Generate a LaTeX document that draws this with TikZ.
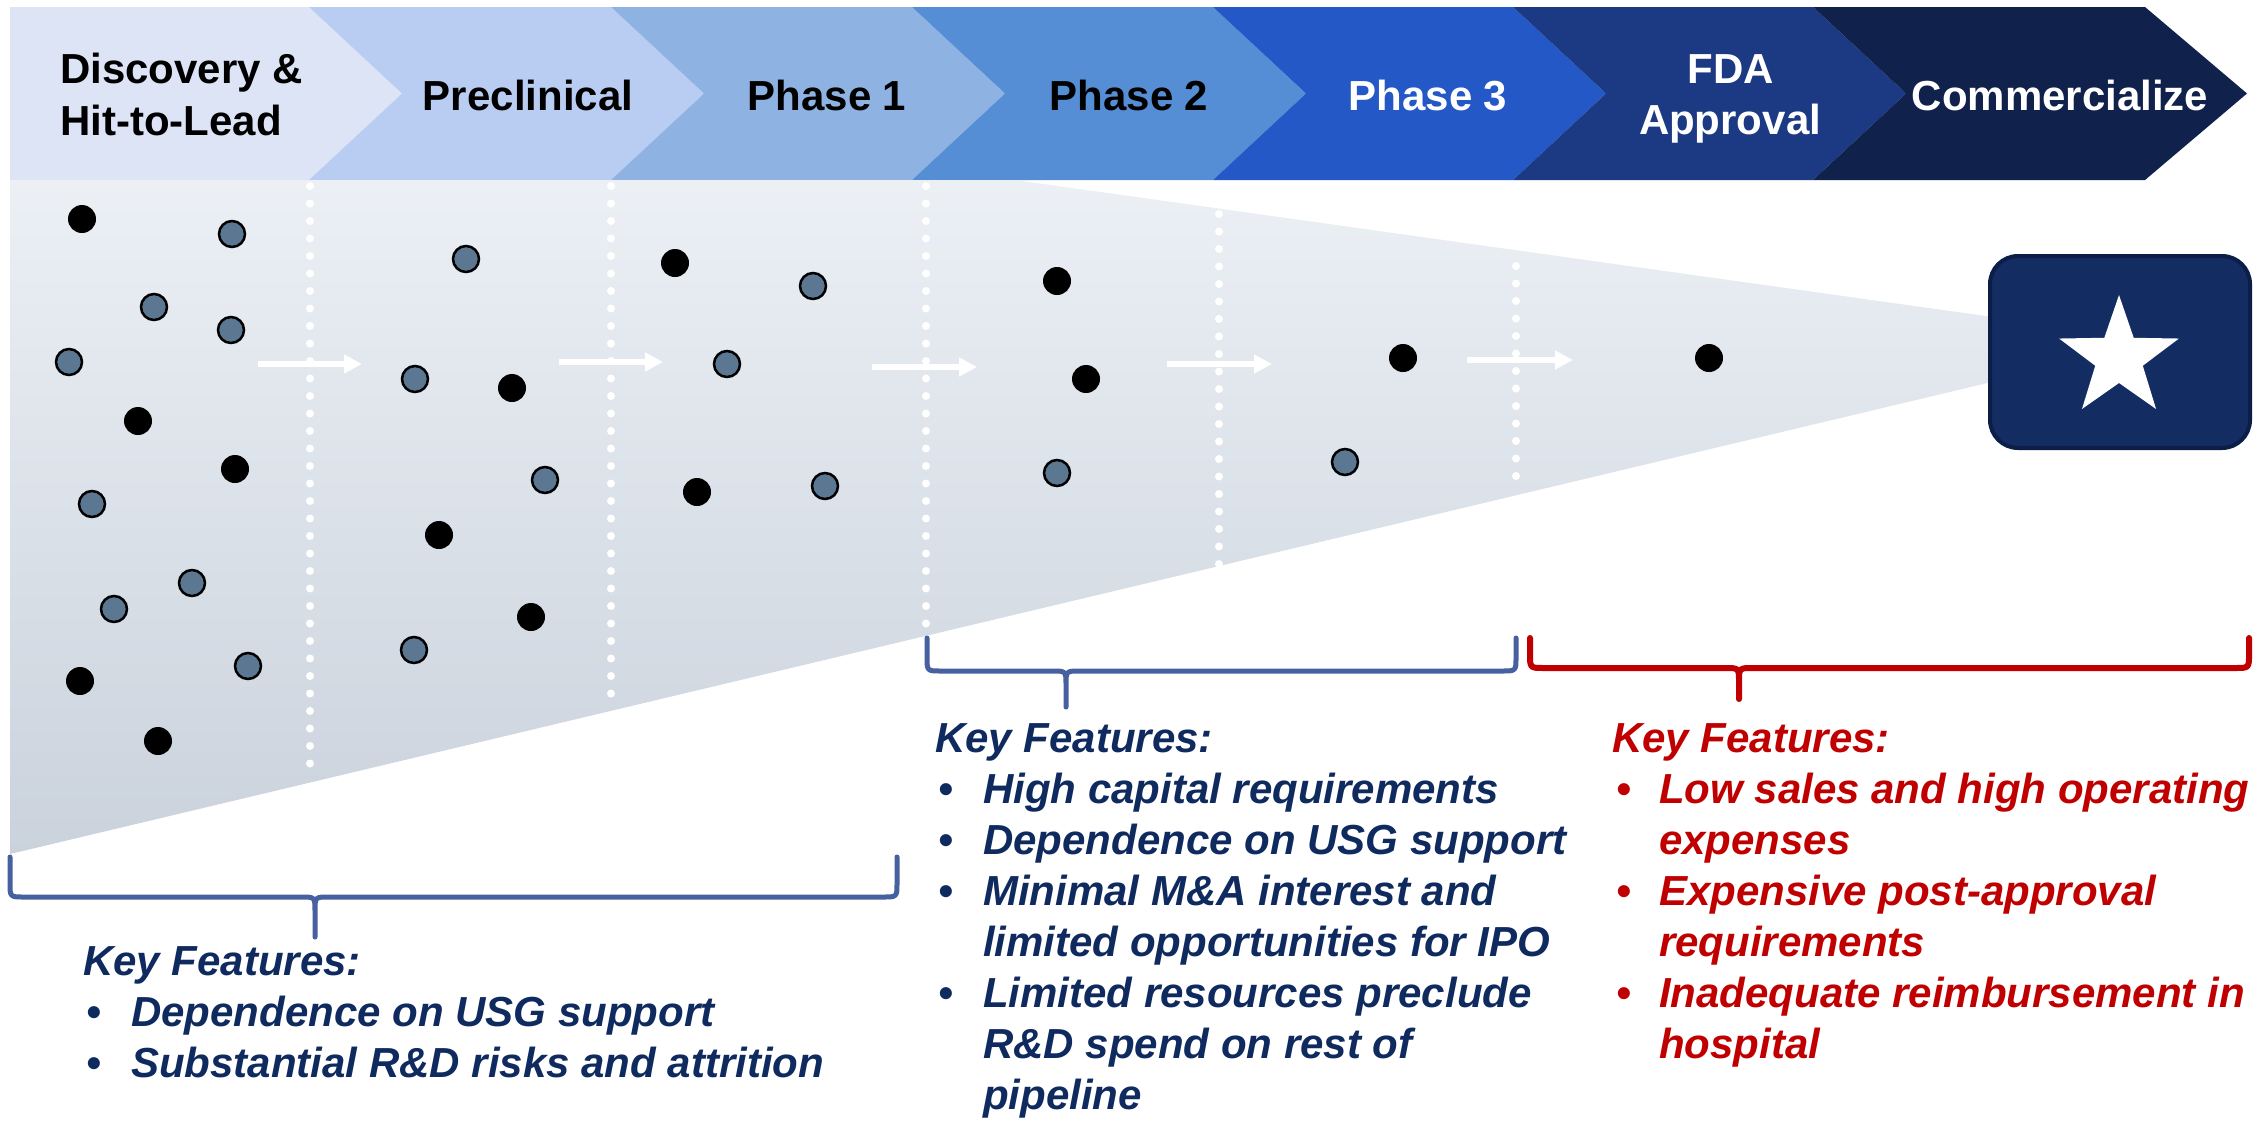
\documentclass[tikz,border=0pt]{standalone}
\usepackage{fontspec}
\setmainfont{Liberation Sans}
\usetikzlibrary{arrows.meta}
\definecolor{c1}{HTML}{DCE4F6}
\definecolor{c2}{HTML}{B9CDF3}
\definecolor{c3}{HTML}{8EB3E2}
\definecolor{c4}{HTML}{558ED5}
\definecolor{c5}{HTML}{2458C6}
\definecolor{c6}{HTML}{1B3A83}
\definecolor{c7}{HTML}{10214C}
\definecolor{ftop}{HTML}{ECF0F5}
\definecolor{fbot}{HTML}{CAD2DC}
\definecolor{slate}{HTML}{5B7792}
\definecolor{navy}{HTML}{0F2A5E}
\definecolor{bblue}{HTML}{4760A0}
\definecolor{bred}{HTML}{C00000}
\definecolor{boxfill}{HTML}{132C62}
\definecolor{boxline}{HTML}{0C1D47}
\begin{document}
\begin{tikzpicture}[x=1pt,y=-1pt,
  lbl/.style={inner sep=0pt,anchor=base,font=\fontsize{42}{52}\selectfont\bfseries},
  lbll/.style={lbl,anchor=base west},
  feat/.style={inner sep=0pt,anchor=base west,text=navy,font=\fontsize{42}{51}\selectfont\bfseries\itshape},
  featr/.style={feat,text=bred},
  dotline/.style={white,line width=8pt,line cap=round,dash pattern=on 0pt off 17.5pt},
  flow/.style={white,line width=6pt,-{Triangle[length=18pt,width=18pt]}},
  bdot/.style={fill=black},
  sdot/.style={fill=slate,draw=black,line width=2.5pt},
  brace/.style={line width=5pt,line join=round,line cap=round},
]
\useasboundingbox (0,0) rectangle (2264,1120);
\fill[white] (0,0) rectangle (2264,1120);

% chevrons
\fill[c1] (10,7) -- (309,7) -- (402,93.5) -- (309,180) -- (10,180) -- cycle;
\fill[c2] (309,7) -- (611,7) -- (704,93.5) -- (611,180) -- (309,180) -- (402,93.5) -- cycle;
\fill[c3] (611,7) -- (912,7) -- (1005,93.5) -- (912,180) -- (611,180) -- (704,93.5) -- cycle;
\fill[c4] (912,7) -- (1213,7) -- (1306,93.5) -- (1213,180) -- (912,180) -- (1005,93.5) -- cycle;
\fill[c5] (1213,7) -- (1513,7) -- (1606,93.5) -- (1513,180) -- (1213,180) -- (1306,93.5) -- cycle;
\fill[c6] (1513,7) -- (1813,7) -- (1906,93.5) -- (1813,180) -- (1513,180) -- (1606,93.5) -- cycle;
\fill[c7] (1813,7) -- (2145,7) -- (2247,93.5) -- (2145,180) -- (1813,180) -- (1906,93.5) -- cycle;

\node[lbll] (disc1) at (60,83) {Discovery \&};
\node[lbll] (disc2) at (60,135) {Hit-to-Lead};
\node[lbl] (precl) at (528,110) {Preclinical};
\node[lbl] (ph1) at (827,110) {Phase 1};
\node[lbl] (ph2) at (1129,110) {Phase 2};
\node[lbl,text=white] (ph3) at (1428,110) {Phase 3};
\node[lbl,text=white] (fda1) at (1731,83) {FDA};
\node[lbl,text=white] (fda2) at (1730,134) {Approval};
\node[lbl,text=white] (comm) at (2060,110) {Commercialize};

% funnel
\shade[top color=ftop,bottom color=fbot] (10,180) -- (1015,180) -- (2000,318) -- (2000,380) -- (10,854) -- cycle;

% dotted separators
\draw[dotline] (310,186) -- (310,780);
\draw[dotline] (611,186) -- (611,706);
\draw[dotline] (926,186) -- (926,630);
\draw[dotline] (1219,214) -- (1219,564);
\draw[dotline] (1516,266) -- (1516,492);

% arrows
\draw[flow] (258,364) -- (362,364);
\draw[flow] (559,362) -- (663,362);
\draw[flow] (872,367) -- (977,367);
\draw[flow] (1167,364) -- (1272,364);
\draw[flow] (1467,360) -- (1573,360);

% dots column 1
\fill[bdot] (82,219) circle[radius=14pt];
\draw[sdot] (232,234) circle[radius=13pt];
\draw[sdot] (154,307) circle[radius=13pt];
\draw[sdot] (231,330) circle[radius=13pt];
\draw[sdot] (69,362) circle[radius=13pt];
\fill[bdot] (138,421) circle[radius=14pt];
\fill[bdot] (235,469) circle[radius=14pt];
\draw[sdot] (92,504) circle[radius=13pt];
\draw[sdot] (192,583) circle[radius=13pt];
\draw[sdot] (114,609) circle[radius=13pt];
\fill[bdot] (80,681) circle[radius=14pt];
\draw[sdot] (248,666) circle[radius=13pt];
\fill[bdot] (158,741) circle[radius=14pt];
% column 2
\draw[sdot] (466,259) circle[radius=13pt];
\draw[sdot] (415,379) circle[radius=13pt];
\fill[bdot] (512,388) circle[radius=14pt];
\draw[sdot] (545,480) circle[radius=13pt];
\fill[bdot] (439,535) circle[radius=14pt];
\fill[bdot] (531,617) circle[radius=14pt];
\draw[sdot] (414,650) circle[radius=13pt];
% column 3
\fill[bdot] (675,263) circle[radius=14pt];
\draw[sdot] (813,286) circle[radius=13pt];
\draw[sdot] (727,364) circle[radius=13pt];
\fill[bdot] (697,492) circle[radius=14pt];
\draw[sdot] (825,486) circle[radius=13pt];
% column 4
\fill[bdot] (1057,281) circle[radius=14pt];
\fill[bdot] (1086,379) circle[radius=14pt];
\draw[sdot] (1057,473) circle[radius=13pt];
% column 5
\fill[bdot] (1403,358) circle[radius=14pt];
\draw[sdot] (1345,462) circle[radius=13pt];
% column 6
\fill[bdot] (1709,358) circle[radius=14pt];

% star box
\draw[fill=boxfill,draw=boxline,line width=4pt,rounded corners=28pt] (1990,256) rectangle (2250,448);
\fill[white] (2119,358) +(-90:63) -- +(-54:25) -- +(-18:63) -- +(18:25) -- +(54:63) -- +(90:25) -- +(126:63) -- +(162:25) -- +(198:63) -- +(234:25) -- cycle;

% braces
\draw[brace,bblue] (10,857) -- (10,883) .. controls (10,897) .. (24,897) -- (301,897) .. controls (315,897) .. (315,911) -- (315,937) -- (315,911) .. controls (315,897) .. (329,897) -- (883,897) .. controls (897,897) .. (897,883) -- (897,857);
\draw[brace,bblue] (927,638) -- (927,657) .. controls (927,671) .. (941,671) -- (1052,671) .. controls (1066,671) .. (1066,685) -- (1066,707) -- (1066,685) .. controls (1066,671) .. (1080,671) -- (1502,671) .. controls (1516,671) .. (1516,657) -- (1516,638);
\draw[brace,bred,line width=6pt] (1530,638) -- (1530,654) .. controls (1530,668) .. (1544,668) -- (1725,668) .. controls (1739,668) .. (1739,682) -- (1739,699) -- (1739,682) .. controls (1739,668) .. (1753,668) -- (2235,668) .. controls (2249,668) .. (2249,654) -- (2249,638);

% features block 1
\node[feat] (k1) at (83,975) {Key Features:};
\node[feat] (k1b1) at (86,1026) {•};
\node[feat] (k1t1) at (131,1026) {Dependence on USG support};
\node[feat] (k1b2) at (86,1077) {•};
\node[feat] (k1t2) at (131,1077) {Substantial R\&D risks and attrition};

% features block 2
\node[feat] (k2) at (935,752) {Key Features:};
\node[feat] (k2b1) at (938,803) {•};
\node[feat] (k2t1) at (983,803) {High capital requirements};
\node[feat] (k2b2) at (938,854) {•};
\node[feat] (k2t2) at (983,854) {Dependence on USG support};
\node[feat] (k2b3) at (938,905) {•};
\node[feat] (k2t3) at (983,905) {Minimal M\&A interest and};
\node[feat] (k2t3b) at (983,956) {limited opportunities for IPO};
\node[feat] (k2b4) at (938,1007) {•};
\node[feat] (k2t4) at (983,1007) {Limited resources preclude};
\node[feat] (k2t4b) at (983,1058) {R\&D spend on rest of};
\node[feat] (k2t4c) at (983,1109) {pipeline};

% features block 3
\node[featr] (k3) at (1612,752) {Key Features:};
\node[featr] (k3b1) at (1616,803) {•};
\node[featr] (k3t1) at (1659,803) {Low sales and high operating};
\node[featr] (k3t1b) at (1659,854) {expenses};
\node[featr] (k3b2) at (1616,905) {•};
\node[featr] (k3t2) at (1659,905) {Expensive post-approval};
\node[featr] (k3t2b) at (1659,956) {requirements};
\node[featr] (k3b3) at (1616,1007) {•};
\node[featr] (k3t3) at (1659,1007) {Inadequate reimbursement in};
\node[featr] (k3t3b) at (1659,1058) {hospital};
\end{tikzpicture}
\end{document}
